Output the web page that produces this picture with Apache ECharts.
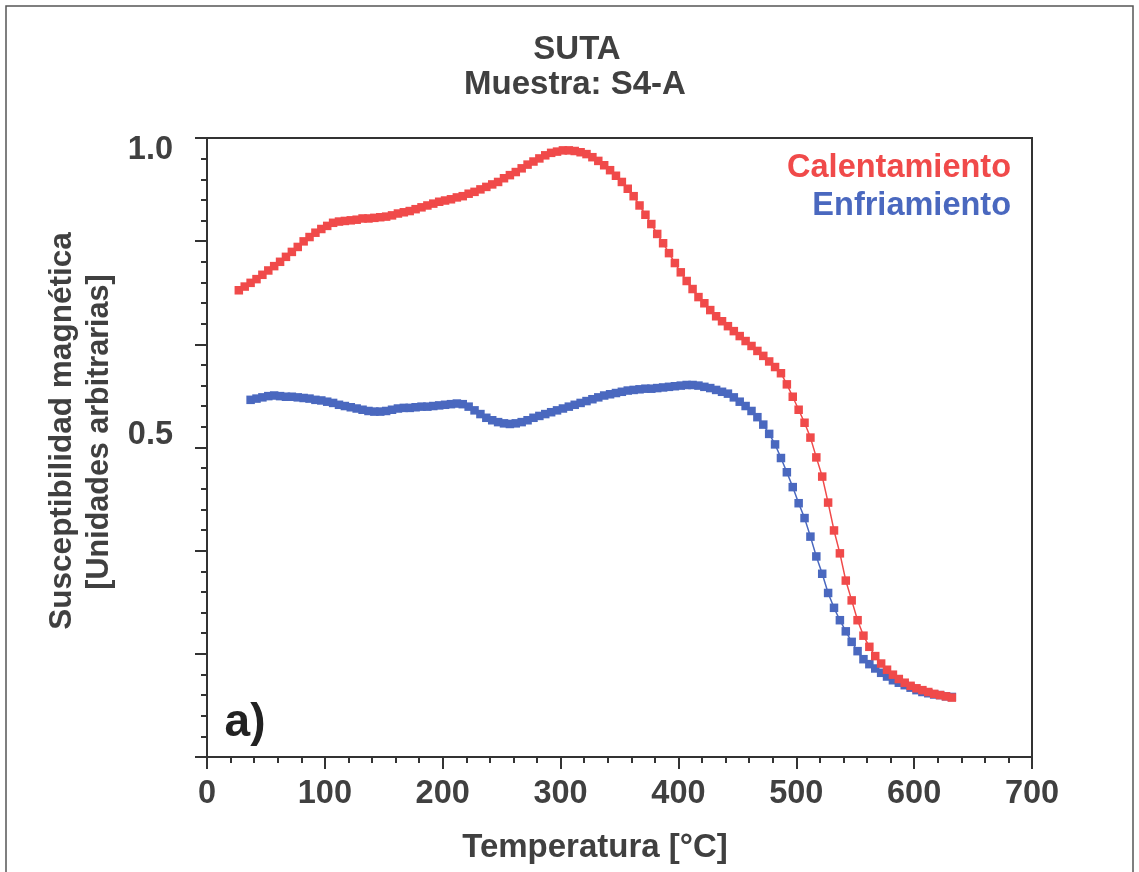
<!DOCTYPE html>
<html>
<head>
<meta charset="utf-8">
<title>SUTA Muestra S4-A</title>
<script src="https://cdn.jsdelivr.net/npm/echarts@6.0.0/dist/echarts.min.js"></script>
<style>
  html, body { margin: 0; padding: 0; background: #fff; }
  #chart { width: 1139px; height: 872px; }
</style>
</head>
<body>
<div id="chart"></div>
<script>
// Temperature steps shared by both runs (°C)
const tempC = [
  27, 32, 37, 42, 47, 52, 57, 62, 67, 72,
  77, 82, 87, 92, 97, 102, 107, 112, 117, 122,
  127, 132, 137, 142, 147, 152, 157, 162, 167, 172,
  177, 182, 187, 192, 197, 202, 207, 212, 217, 222,
  227, 232, 237, 242, 247, 252, 257, 262, 267, 272,
  277, 282, 287, 292, 297, 302, 307, 312, 317, 322,
  327, 332, 337, 342, 347, 352, 357, 362, 367, 372,
  377, 382, 387, 392, 397, 402, 407, 412, 417, 422,
  427, 432, 437, 442, 447, 452, 457, 462, 467, 472,
  477, 482, 487, 492, 497, 502, 507, 512, 517, 522,
  527, 532, 537, 542, 547, 552, 557, 562, 567, 572,
  577, 582, 587, 592, 597, 602, 607, 612, 617, 622,
  627, 632
];

// Calentamiento (heating)
const heating = [
  0.754, 0.760, 0.766, 0.772, 0.779, 0.786, 0.793, 0.800, 0.808, 0.816,
  0.824, 0.833, 0.840, 0.847, 0.853, 0.858, 0.863, 0.865, 0.866, 0.867,
  0.868, 0.870, 0.870, 0.871, 0.872, 0.873, 0.875, 0.878, 0.880, 0.882,
  0.885, 0.888, 0.891, 0.894, 0.897, 0.899, 0.901, 0.904, 0.906, 0.910,
  0.913, 0.917, 0.921, 0.925, 0.929, 0.935, 0.940, 0.945, 0.951, 0.957,
  0.962, 0.967, 0.972, 0.976, 0.978, 0.980, 0.980, 0.979, 0.977, 0.974,
  0.969, 0.963, 0.956, 0.948, 0.939, 0.929, 0.918, 0.906, 0.891, 0.876,
  0.861, 0.845, 0.830, 0.814, 0.798, 0.783, 0.769, 0.756, 0.743, 0.733,
  0.722, 0.712, 0.704, 0.696, 0.688, 0.680, 0.672, 0.664, 0.656, 0.648,
  0.639, 0.630, 0.620, 0.602, 0.582, 0.561, 0.540, 0.516, 0.484, 0.453,
  0.411, 0.366, 0.329, 0.285, 0.253, 0.221, 0.196, 0.178, 0.163, 0.151,
  0.141, 0.133, 0.126, 0.120, 0.115, 0.111, 0.108, 0.105, 0.102, 0.100,
  0.098, 0.096
];

// Enfriamiento (cooling)
const cooling = [
  null, null, 0.577, 0.579, 0.581, 0.583, 0.584, 0.583, 0.582, 0.582,
  0.581, 0.580, 0.579, 0.577, 0.576, 0.574, 0.572, 0.569, 0.567, 0.565,
  0.563, 0.561, 0.559, 0.558, 0.558, 0.559, 0.561, 0.563, 0.564, 0.564,
  0.565, 0.566, 0.566, 0.567, 0.568, 0.569, 0.570, 0.571, 0.570, 0.566,
  0.560, 0.554, 0.548, 0.544, 0.541, 0.539, 0.538, 0.539, 0.541, 0.544,
  0.548, 0.551, 0.554, 0.557, 0.560, 0.563, 0.566, 0.569, 0.572, 0.575,
  0.578, 0.581, 0.584, 0.586, 0.588, 0.590, 0.592, 0.593, 0.594, 0.595,
  0.595, 0.596, 0.597, 0.598, 0.599, 0.600, 0.601, 0.601, 0.600, 0.598,
  0.596, 0.593, 0.590, 0.587, 0.581, 0.574, 0.567, 0.559, 0.549, 0.537,
  0.522, 0.505, 0.483, 0.460, 0.436, 0.410, 0.386, 0.356, 0.324, 0.296,
  0.265, 0.241, 0.221, 0.203, 0.186, 0.171, 0.158, 0.150, 0.143, 0.136,
  0.130, 0.124, 0.120, 0.116, 0.112, 0.108, 0.105, 0.103, 0.101, 0.100,
  0.098, 0.097
];

const FONT = '"Liberation Sans", Arial, sans-serif';
const TEXT = '#404040';
const AXIS = '#333';
const RED = '#f04a4a';
const BLUE = '#4a68bf';

function pairs(values) {
  return tempC.map((t, i) => [t, values[i]]);
}

const chart = echarts.init(document.getElementById('chart'));

const axisCommon = {
  type: 'value',
  axisLine: { show: true, lineStyle: { color: AXIS, width: 2 } },
  axisTick: { show: true, length: 12, lineStyle: { color: AXIS, width: 2 } },
  minorTick: { show: true, splitNumber: 5, length: 6, lineStyle: { color: AXIS, width: 2 } },
  splitLine: { show: false }
};

const option = {
  animation: false,
  backgroundColor: '#fff',
  grid: {
    left: 207, right: 107, top: 138, bottom: 115,
    show: true, borderColor: AXIS, borderWidth: 2
  },
  xAxis: Object.assign({}, axisCommon, {
    min: 0, max: 700, interval: 100,
    axisLabel: {
      color: TEXT, fontSize: 32.5, fontWeight: 'bold', fontFamily: FONT, margin: 21
    }
  }),
  yAxis: Object.assign({}, axisCommon, {
    min: 0, max: 1, interval: 1 / 6,
    axisLabel: {
      margin: 34,
      formatter: function (v) {
        if (Math.abs(v - 1) < 1e-6) return '{top|1.0}';
        if (Math.abs(v - 0.5) < 1e-6) return '{mid|0.5}';
        return '';
      },
      rich: {
        top: { color: TEXT, fontSize: 32.5, fontWeight: 'bold', fontFamily: FONT, padding: [24, 0, 0, 0] },
        mid: { color: TEXT, fontSize: 32.5, fontWeight: 'bold', fontFamily: FONT, padding: [0, 0, 24, 0] }
      }
    }
  }),
  series: [
    {
      name: 'Enfriamiento',
      type: 'line',
      data: pairs(cooling),
      symbol: 'rect',
      symbolSize: 8.5,
      showAllSymbol: true,
      lineStyle: { color: BLUE, width: 1.5 },
      itemStyle: { color: BLUE }
    },
    {
      name: 'Calentamiento',
      type: 'line',
      data: pairs(heating),
      symbol: 'rect',
      symbolSize: 8.5,
      showAllSymbol: true,
      lineStyle: { color: RED, width: 1.5 },
      itemStyle: { color: RED }
    }
  ],
  graphic: [
    {
      type: 'rect', silent: true,
      shape: { x: 6, y: 6, width: 1127, height: 900 },
      style: { fill: 'none', stroke: '#555', lineWidth: 1.5 }
    },
    {
      type: 'text', x: 577, y: 50,
      style: { text: 'SUTA', fill: TEXT, fontSize: 33, fontWeight: 'bold', fontFamily: FONT, align: 'center', verticalAlign: 'middle' }
    },
    {
      type: 'text', x: 575, y: 85,
      style: { text: 'Muestra: S4-A', fill: TEXT, fontSize: 33, fontWeight: 'bold', fontFamily: FONT, align: 'center', verticalAlign: 'middle' }
    },
    {
      type: 'text', x: 1011, y: 168,
      style: { text: 'Calentamiento', fill: RED, fontSize: 32.5, fontWeight: 'bold', fontFamily: FONT, align: 'right', verticalAlign: 'middle' }
    },
    {
      type: 'text', x: 1011, y: 206,
      style: { text: 'Enfriamiento', fill: BLUE, fontSize: 32.5, fontWeight: 'bold', fontFamily: FONT, align: 'right', verticalAlign: 'middle' }
    },
    {
      type: 'text', x: 245, y: 723,
      style: { text: 'a)', fill: '#222', fontSize: 46, fontWeight: 'bold', fontFamily: FONT, align: 'center', verticalAlign: 'middle' }
    },
    {
      type: 'text', x: 595, y: 848,
      style: { text: 'Temperatura [°C]', fill: TEXT, fontSize: 33, fontWeight: 'bold', fontFamily: FONT, align: 'center', verticalAlign: 'middle' }
    },
    {
      type: 'text', x: 62, y: 431, rotation: Math.PI / 2,
      style: { text: 'Susceptibilidad magnética', fill: TEXT, fontSize: 31.5, fontWeight: 'bold', fontFamily: FONT, align: 'center', verticalAlign: 'middle' }
    },
    {
      type: 'text', x: 100, y: 432, rotation: Math.PI / 2,
      style: { text: '[Unidades arbitrarias]', fill: TEXT, fontSize: 30.5, fontWeight: 'bold', fontFamily: FONT, align: 'center', verticalAlign: 'middle' }
    }
  ]
};

chart.setOption(option);
window.addEventListener('resize', () => chart.resize());
</script>
</body>
</html>
